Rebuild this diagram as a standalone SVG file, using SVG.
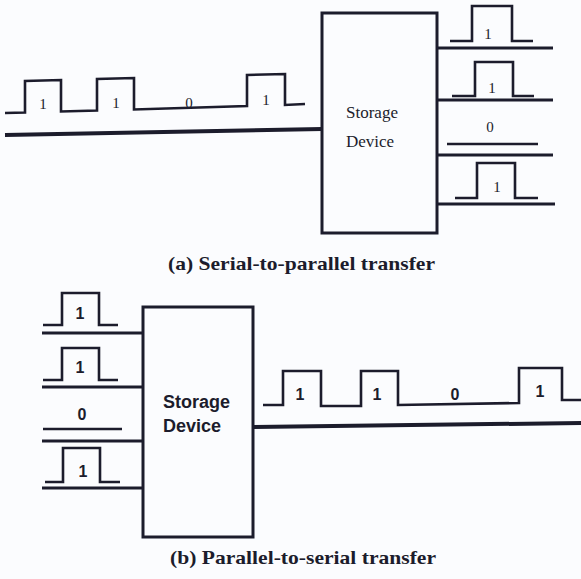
<svg xmlns="http://www.w3.org/2000/svg" width="581" height="579" viewBox="0 0 581 579">
<style>
.bg{fill:#fbfcfe}
.box{fill:none;stroke:#1c1c2c;stroke-width:3}
.wave{fill:none;stroke:#1c1c2c;stroke-width:2.6;stroke-linejoin:miter}
.line{fill:none;stroke:#1c1c2c;stroke-width:3}
.thick{fill:none;stroke:#1c1c2c;stroke-width:4}
.serif{font-family:"Liberation Serif","Times New Roman",serif;fill:#1c1c2c}
.sans{font-family:"Liberation Sans",Arial,sans-serif;font-weight:bold;fill:#1c1c2c}
.cap{font-family:"Liberation Serif","Times New Roman",serif;font-weight:bold;font-size:19px;fill:#1c1c2c}
</style>
<rect class="bg" x="0" y="0" width="581" height="579"/>

<g id="storage-a">
<rect class="box" x="322" y="13" width="115" height="220"/>
<text class="serif" x="346" y="118" font-size="17">Storage</text>
<text class="serif" x="346" y="147" font-size="17">Device</text>
</g>

<g id="storage-b">
<rect class="box" x="143" y="307" width="110" height="230"/>
<text class="sans" x="163" y="408" font-size="18">Storage</text>
<text class="sans" x="163" y="432" font-size="18">Device</text>
</g>

<g id="connectors">
<path class="thick" d="M5,135 L322,129"/>
<path class="wave" d="M5,113 L25,112.5 L25,81 L61,80 L61,111.5 L97,110.5 L97,79 L134,78 L134,109.5 L247,106 L247,75 L285,74 L285,105 L305,104"/>
<path class="line" d="M437,48 L553,48 M437,100 L553,100 M437,155 L553,155 M437,204 L555,204"/>
<path class="wave" d="M450,41 L472,41 L472,6 L512,6 L512,41 L533,41"/>
<path class="wave" d="M452,96 L475,96 L475,62 L513,62 L513,96 L534,96"/>
<path class="wave" d="M447,144 L538,144"/>
<path class="wave" d="M455,198 L477,198 L477,163 L515,163 L515,198 L538,198"/>
<path class="line" d="M42,333 L143,333 M42,387 L143,387 M42,441 L143,441 M42,488 L143,488"/>
<path class="wave" d="M43,325 L62,325 L62,293 L99,293 L99,325 L118,325"/>
<path class="wave" d="M43,380 L62,380 L62,348 L99,348 L99,380 L118,380"/>
<path class="wave" d="M43,429 L122,429"/>
<path class="wave" d="M45,482 L63,482 L63,448 L100,448 L100,482 L120,482"/>
<path class="thick" d="M253,427 L581,423"/>
<path class="wave" d="M263,405 L283,405 L283,371 L321,371 L321,406 L361,406 L361,371 L398,371 L398,405 L519,403 L519,368 L562,368 L562,400 L581,400"/>
</g>

<g id="labels-a">
<text class="serif" font-size="15" text-anchor="middle" x="43" y="109">1</text>
<text class="serif" font-size="15" text-anchor="middle" x="116" y="108">1</text>
<text class="serif" font-size="15" text-anchor="middle" x="189" y="108">0</text>
<text class="serif" font-size="15" text-anchor="middle" x="266" y="105">1</text>
<text class="serif" font-size="15" text-anchor="middle" x="488" y="39">1</text>
<text class="serif" font-size="15" text-anchor="middle" x="492" y="93">1</text>
<text class="serif" font-size="15" text-anchor="middle" x="490" y="132">0</text>
<text class="serif" font-size="15" text-anchor="middle" x="497" y="192">1</text>
</g>

<g id="labels-b">
<text class="sans" font-size="16" text-anchor="middle" x="80" y="319">1</text>
<text class="sans" font-size="16" text-anchor="middle" x="80" y="373">1</text>
<text class="sans" font-size="16" text-anchor="middle" x="82" y="420">0</text>
<text class="sans" font-size="16" text-anchor="middle" x="83" y="477">1</text>
<text class="sans" font-size="16" text-anchor="middle" x="300" y="400">1</text>
<text class="sans" font-size="16" text-anchor="middle" x="377" y="400">1</text>
<text class="sans" font-size="16" text-anchor="middle" x="455" y="400">0</text>
<text class="sans" font-size="16" text-anchor="middle" x="540" y="397">1</text>
</g>

<g id="captions">
<text class="cap" x="168" y="270" textLength="267" lengthAdjust="spacingAndGlyphs">(a) Serial-to-parallel transfer</text>
<text class="cap" x="170" y="564" textLength="266" lengthAdjust="spacingAndGlyphs">(b) Parallel-to-serial transfer</text>
</g>
</svg>
